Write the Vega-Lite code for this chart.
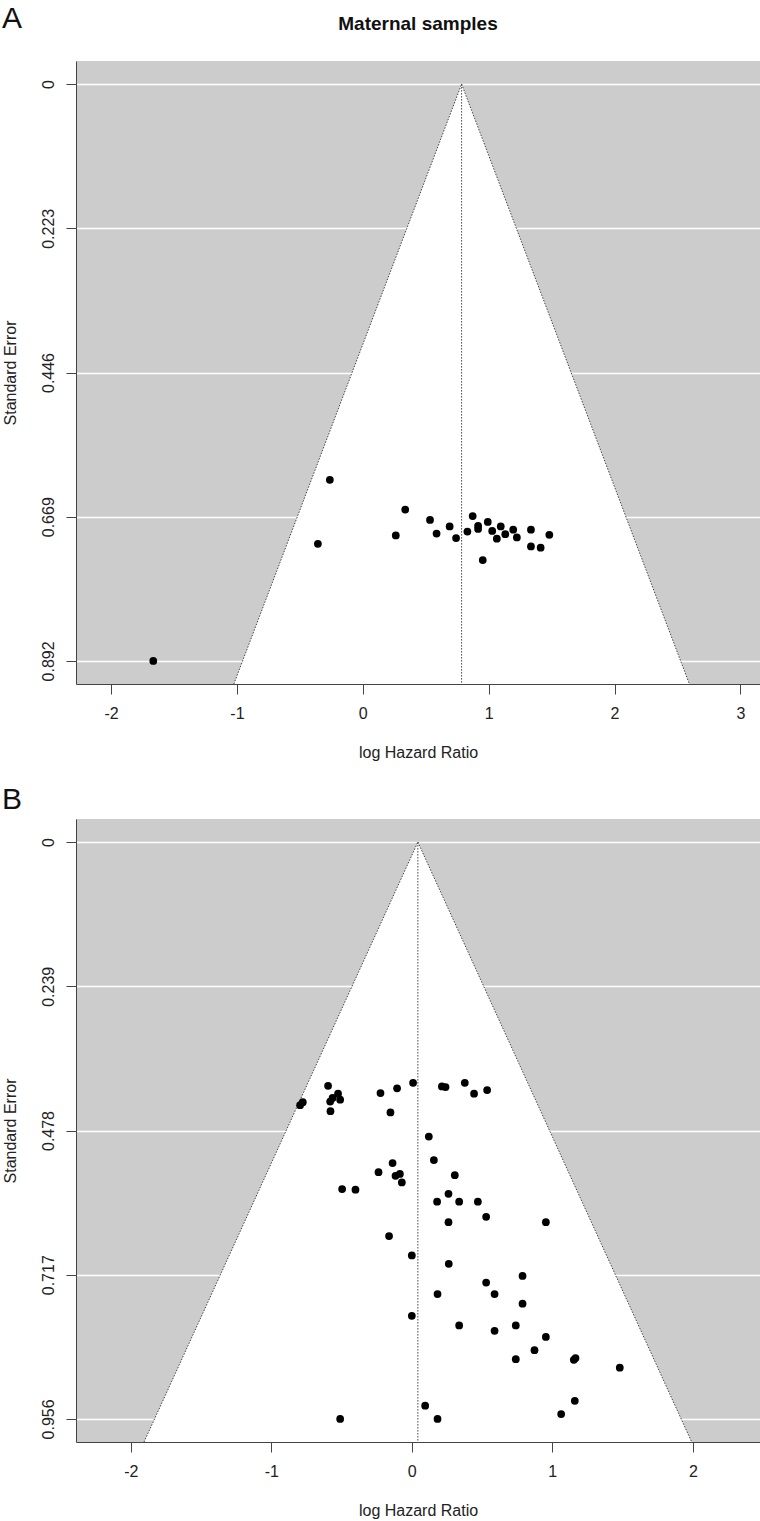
{
  "$schema": "https://vega.github.io/schema/vega-lite/v6.json",
  "padding": {"left": 2, "top": 4, "right": 0, "bottom": 1},
  "autosize": {"type": "pad"},
  "title": {"text": "A", "anchor": "start", "frame": "bounds", "fontSize": 30, "fontWeight": "normal", "baseline": "alphabetic", "offset": -43, "color": "#111"},
  "spacing": 25,
  "config": {
    "font": "Liberation Sans",
    "view": {"fill": "#cccccc", "stroke": null},
    "axis": {"labelFontSize": 16, "titleFontSize": 16, "titleFontWeight": "normal", "labelColor": "#222", "titleColor": "#222", "tickColor": "#444", "domainColor": "#444", "tickSize": 10, "labelOverlap": false, "labelFlush": false},
    "title": {"color": "#111"}
  },
  "datasets": {
    "pointsA": [
      {"loghr": -0.262, "se": 0.612}, {"loghr": -0.357, "se": 0.711}, {"loghr": 0.337, "se": 0.658},
      {"loghr": 0.262, "se": 0.698}, {"loghr": 0.534, "se": 0.674}, {"loghr": 0.586, "se": 0.695},
      {"loghr": 0.690, "se": 0.684}, {"loghr": 0.741, "se": 0.702}, {"loghr": 0.831, "se": 0.692},
      {"loghr": 0.873, "se": 0.668}, {"loghr": 0.916, "se": 0.683}, {"loghr": 0.916, "se": 0.688},
      {"loghr": 0.953, "se": 0.736}, {"loghr": 0.993, "se": 0.677}, {"loghr": 1.028, "se": 0.691},
      {"loghr": 1.065, "se": 0.703}, {"loghr": 1.096, "se": 0.684}, {"loghr": 1.132, "se": 0.696},
      {"loghr": 1.195, "se": 0.689}, {"loghr": 1.224, "se": 0.701}, {"loghr": 1.336, "se": 0.689},
      {"loghr": 1.336, "se": 0.715}, {"loghr": 1.413, "se": 0.717}, {"loghr": 1.482, "se": 0.697},
      {"loghr": -1.665, "se": 0.892}
    ],
    "funnelA": [
      {"se": 0, "lo": 0.785, "hi": 0.785},
      {"se": 0.9277, "lo": -1.025, "hi": 2.595}
    ],
    "centerA": [{"c": 0.785, "top": 0, "bot": 0.9277}],
    "pointsB": [
      {"loghr": -0.596, "se": 0.404}, {"loghr": -0.525, "se": 0.417}, {"loghr": -0.564, "se": 0.424},
      {"loghr": -0.510, "se": 0.427}, {"loghr": -0.581, "se": 0.430}, {"loghr": -0.776, "se": 0.431},
      {"loghr": -0.795, "se": 0.436}, {"loghr": -0.579, "se": 0.446}, {"loghr": -0.223, "se": 0.416},
      {"loghr": -0.105, "se": 0.408}, {"loghr": 0.009, "se": 0.399}, {"loghr": -0.152, "se": 0.448},
      {"loghr": 0.214, "se": 0.405}, {"loghr": 0.240, "se": 0.406}, {"loghr": 0.377, "se": 0.399},
      {"loghr": 0.443, "se": 0.417}, {"loghr": 0.536, "se": 0.411}, {"loghr": 0.121, "se": 0.488},
      {"loghr": 0.157, "se": 0.527}, {"loghr": -0.137, "se": 0.532}, {"loghr": -0.237, "se": 0.547},
      {"loghr": -0.116, "se": 0.553}, {"loghr": -0.085, "se": 0.550}, {"loghr": -0.071, "se": 0.564},
      {"loghr": -0.496, "se": 0.575}, {"loghr": -0.401, "se": 0.576}, {"loghr": 0.306, "se": 0.552},
      {"loghr": 0.261, "se": 0.583}, {"loghr": 0.180, "se": 0.596}, {"loghr": 0.337, "se": 0.596},
      {"loghr": 0.470, "se": 0.596}, {"loghr": 0.529, "se": 0.621}, {"loghr": 0.261, "se": 0.630},
      {"loghr": 0.954, "se": 0.630}, {"loghr": -0.162, "se": 0.653}, {"loghr": 0.000, "se": 0.685},
      {"loghr": 0.263, "se": 0.699}, {"loghr": 0.788, "se": 0.719}, {"loghr": 0.529, "se": 0.730},
      {"loghr": 0.183, "se": 0.749}, {"loghr": 0.589, "se": 0.749}, {"loghr": 0.788, "se": 0.765},
      {"loghr": 0.000, "se": 0.785}, {"loghr": 0.337, "se": 0.801}, {"loghr": 0.589, "se": 0.810},
      {"loghr": 0.740, "se": 0.801}, {"loghr": 0.954, "se": 0.820}, {"loghr": 0.873, "se": 0.842},
      {"loghr": 0.740, "se": 0.857}, {"loghr": 1.153, "se": 0.858}, {"loghr": 1.165, "se": 0.855},
      {"loghr": 1.480, "se": 0.871}, {"loghr": 1.160, "se": 0.926}, {"loghr": 1.063, "se": 0.948},
      {"loghr": 0.095, "se": 0.934}, {"loghr": 0.183, "se": 0.956}, {"loghr": -0.510, "se": 0.956}
    ],
    "funnelB": [
      {"se": 0, "lo": 0.043, "hi": 0.043},
      {"se": 0.9942, "lo": -1.906, "hi": 1.992}
    ],
    "centerB": [{"c": 0.043, "top": 0, "bot": 0.9942}]
  },
  "vconcat": [
    {
      "width": 684,
      "height": 623,
      "title": {"text": "Maternal samples", "anchor": "middle", "frame": "group", "fontSize": 19, "fontWeight": "bold", "baseline": "alphabetic", "offset": 12},
      "layer": [
        {
          "data": {"name": "funnelA"},
          "mark": {"type": "area", "orient": "horizontal", "color": "white", "opacity": 1},
          "encoding": {
            "y": {"field": "se", "type": "quantitative", "title": "Standard Error",
              "scale": {"domain": [-0.0357, 0.9277], "reverse": true, "nice": false, "zero": false},
              "axis": {"values": [0, 0.223, 0.446, 0.669, 0.892], "labelExpr": "'' + datum.value", "labelAngle": -90, "labelAlign": "center", "labelBaseline": "alphabetic", "labelPadding": 13, "titlePadding": 22, "grid": true, "gridColor": "white", "gridWidth": 1.5, "gridOpacity": 1}},
            "x": {"field": "lo", "type": "quantitative", "title": "log Hazard Ratio",
              "scale": {"domain": [-2.279, 3.156], "nice": false, "zero": false},
              "axis": {"values": [-2, -1, 0, 1, 2, 3], "labelExpr": "'' + datum.value", "grid": false, "labelPadding": 11, "titlePadding": 23}},
            "x2": {"field": "hi"}
          }
        },
        {
          "data": {"name": "funnelA"},
          "mark": {"type": "line", "color": "#444", "strokeWidth": 1, "strokeDash": [1.5, 1.5]},
          "encoding": {
            "y": {"field": "se", "type": "quantitative", "title": "Standard Error"},
            "x": {"field": "lo", "type": "quantitative", "title": "log Hazard Ratio"}
          }
        },
        {
          "data": {"name": "funnelA"},
          "mark": {"type": "line", "color": "#444", "strokeWidth": 1, "strokeDash": [1.5, 1.5]},
          "encoding": {
            "y": {"field": "se", "type": "quantitative", "title": "Standard Error"},
            "x": {"field": "hi", "type": "quantitative", "title": "log Hazard Ratio"}
          }
        },
        {
          "data": {"name": "centerA"},
          "mark": {"type": "rule", "color": "#444", "strokeWidth": 1, "strokeDash": [1.5, 1.5]},
          "encoding": {
            "x": {"field": "c", "type": "quantitative", "title": "log Hazard Ratio"},
            "y": {"field": "top", "type": "quantitative", "title": "Standard Error"},
            "y2": {"field": "bot"}
          }
        },
        {
          "data": {"name": "pointsA"},
          "mark": {"type": "circle", "size": 60, "color": "black", "opacity": 1},
          "encoding": {
            "x": {"field": "loghr", "type": "quantitative", "title": "log Hazard Ratio"},
            "y": {"field": "se", "type": "quantitative", "title": "Standard Error"}
          }
        }
      ]
    },
    {
      "width": 684,
      "height": 623,
      "title": {"text": "B", "anchor": "start", "frame": "bounds", "fontSize": 30, "fontWeight": "normal", "baseline": "alphabetic", "offset": -20},
      "layer": [
        {
          "data": {"name": "funnelB"},
          "mark": {"type": "area", "orient": "horizontal", "color": "white", "opacity": 1},
          "encoding": {
            "y": {"field": "se", "type": "quantitative", "title": "Standard Error",
              "scale": {"domain": [-0.0382, 0.9942], "reverse": true, "nice": false, "zero": false},
              "axis": {"values": [0, 0.239, 0.478, 0.717, 0.956], "labelExpr": "'' + datum.value", "labelAngle": -90, "labelAlign": "center", "labelBaseline": "alphabetic", "labelPadding": 13, "titlePadding": 22, "grid": true, "gridColor": "white", "gridWidth": 1.5, "gridOpacity": 1}},
            "x": {"field": "lo", "type": "quantitative", "title": "log Hazard Ratio",
              "scale": {"domain": [-2.39, 2.478], "nice": false, "zero": false},
              "axis": {"values": [-2, -1, 0, 1, 2], "labelExpr": "'' + datum.value", "grid": false, "labelPadding": 11, "titlePadding": 23}},
            "x2": {"field": "hi"}
          }
        },
        {
          "data": {"name": "funnelB"},
          "mark": {"type": "line", "color": "#444", "strokeWidth": 1, "strokeDash": [1.5, 1.5]},
          "encoding": {
            "y": {"field": "se", "type": "quantitative", "title": "Standard Error"},
            "x": {"field": "lo", "type": "quantitative", "title": "log Hazard Ratio"}
          }
        },
        {
          "data": {"name": "funnelB"},
          "mark": {"type": "line", "color": "#444", "strokeWidth": 1, "strokeDash": [1.5, 1.5]},
          "encoding": {
            "y": {"field": "se", "type": "quantitative", "title": "Standard Error"},
            "x": {"field": "hi", "type": "quantitative", "title": "log Hazard Ratio"}
          }
        },
        {
          "data": {"name": "centerB"},
          "mark": {"type": "rule", "color": "#444", "strokeWidth": 1, "strokeDash": [1.5, 1.5]},
          "encoding": {
            "x": {"field": "c", "type": "quantitative", "title": "log Hazard Ratio"},
            "y": {"field": "top", "type": "quantitative", "title": "Standard Error"},
            "y2": {"field": "bot"}
          }
        },
        {
          "data": {"name": "pointsB"},
          "mark": {"type": "circle", "size": 60, "color": "black", "opacity": 1},
          "encoding": {
            "x": {"field": "loghr", "type": "quantitative", "title": "log Hazard Ratio"},
            "y": {"field": "se", "type": "quantitative", "title": "Standard Error"}
          }
        }
      ]
    }
  ]
}
